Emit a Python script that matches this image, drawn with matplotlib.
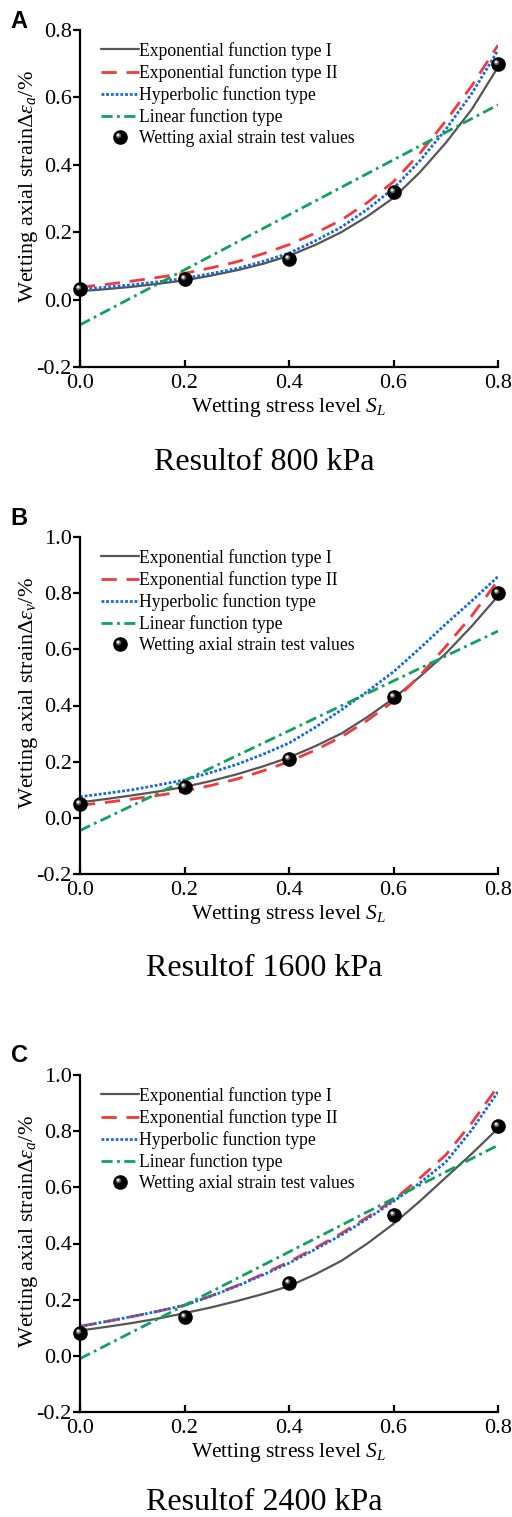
import matplotlib
matplotlib.use("Agg")
import numpy as np
import matplotlib.pyplot as plt
from matplotlib.legend_handler import HandlerTuple
from matplotlib.path import Path

plt.rcParams['font.family'] = ['Liberation Serif', 'DejaVu Serif']
plt.rcParams['mathtext.fontset'] = 'custom'
plt.rcParams['mathtext.rm'] = 'Liberation Serif'
plt.rcParams['mathtext.it'] = 'Liberation Serif:italic'
plt.rcParams['mathtext.bf'] = 'Liberation Serif:bold'

# ---------------- data ----------------
S_curve = [0.00, 0.05, 0.10, 0.15, 0.20, 0.25, 0.30, 0.35, 0.40,
           0.45, 0.50, 0.55, 0.60, 0.65, 0.70, 0.75, 0.80]
S_test = [0.0, 0.2, 0.4, 0.6, 0.8]
S_lin = [0.0, 0.8]

# Panel A: 800 kPa
A_exp1 = [0.025, 0.031, 0.038, 0.047, 0.057, 0.071, 0.087, 0.106, 0.130,
          0.162, 0.200, 0.247, 0.302, 0.377, 0.465, 0.565, 0.690]
A_exp2 = [0.037, 0.045, 0.055, 0.066, 0.078, 0.094, 0.112, 0.136, 0.163,
          0.197, 0.236, 0.288, 0.350, 0.433, 0.530, 0.635, 0.755]
A_hyp = [0.030, 0.037, 0.044, 0.053, 0.063, 0.077, 0.092, 0.113, 0.138,
         0.174, 0.215, 0.268, 0.330, 0.411, 0.505, 0.612, 0.740]
A_lin = [-0.075, 0.578]
A_test = [0.03, 0.06, 0.12, 0.32, 0.70]

# Panel B: 1600 kPa
B_exp1 = [0.055, 0.067, 0.080, 0.094, 0.110, 0.131, 0.155, 0.183, 0.215,
          0.255, 0.300, 0.359, 0.425, 0.502, 0.585, 0.683, 0.790]
B_exp2 = [0.045, 0.055, 0.067, 0.080, 0.095, 0.115, 0.138, 0.167, 0.200,
          0.241, 0.288, 0.347, 0.415, 0.505, 0.610, 0.720, 0.845]
B_hyp = [0.075, 0.087, 0.100, 0.117, 0.135, 0.161, 0.190, 0.226, 0.266,
         0.322, 0.384, 0.450, 0.520, 0.603, 0.690, 0.773, 0.859]
B_lin = [-0.045, 0.665]
B_test = [0.05, 0.11, 0.21, 0.43, 0.80]

# Panel C: 2400 kPa
C_exp1 = [0.090, 0.103, 0.117, 0.133, 0.152, 0.172, 0.195, 0.220, 0.248,
          0.290, 0.338, 0.400, 0.470, 0.550, 0.635, 0.720, 0.810]
C_exp2 = [0.105, 0.122, 0.140, 0.159, 0.180, 0.213, 0.250, 0.291, 0.335,
          0.384, 0.436, 0.494, 0.555, 0.632, 0.715, 0.830, 0.960]
C_hyp = [0.105, 0.122, 0.140, 0.159, 0.180, 0.212, 0.248, 0.288, 0.330,
         0.379, 0.430, 0.488, 0.550, 0.615, 0.690, 0.805, 0.940]
C_lin = [-0.010, 0.750]
C_test = [0.08, 0.14, 0.26, 0.50, 0.82]

legend_labels = ["Exponential function type I", "Exponential function type II",
                 "Hyperbolic function type", "Linear function type",
                 "Wetting axial strain test values"]
ylabels = [r"Wetting axial strain$\Delta\varepsilon_a$/%",
           r"Wetting axial strain$\Delta\varepsilon_v$/%",
           r"Wetting axial strain$\Delta\varepsilon_a$/%"]
titles = ["Resultof 800 kPa", "Resultof 1600 kPa", "Resultof 2400 kPa"]
letters = ["A", "B", "C"]
ymaxs = [0.8, 1.0, 1.0]

panels = [(A_exp1, A_exp2, A_hyp, A_lin, A_test),
          (B_exp1, B_exp2, B_hyp, B_lin, B_test),
          (C_exp1, C_exp2, C_hyp, C_lin, C_test)]


def highlight_marker(cx, cy, rad):
    """Off-centre circle marker (for the glossy sphere look); the two
    invisible MOVETO corners keep the marker scale equal to an 'o' marker."""
    c = Path.circle(center=(cx, cy), radius=rad)
    verts = np.vstack([[[-1.0, -1.0]], [[1.0, 1.0]], c.vertices])
    codes = [Path.MOVETO, Path.MOVETO] + list(c.codes)
    return Path(verts, codes)


hl_outer = highlight_marker(-0.30, 0.30, 0.42)
hl_inner = highlight_marker(-0.36, 0.36, 0.22)

W, H = 512, 1517
fig = plt.figure(figsize=(W / 100, H / 100), dpi=100)

# axes boxes in pixels: (left, top, right, bottom)
boxes = [(80, 30, 498, 367), (80, 537, 498, 874), (80, 1075, 498, 1412)]
title_y = [462, 968, 1503]
letter_y = [22, 518, 1056]

c_gray = '#555555'
c_red = '#f4393c'
c_blue = '#1769e0'
c_green = '#0fa15e'
MS = 9.5

for i, (e1, e2, hy, li, te) in enumerate(panels):
    l, t, r, b = boxes[i]
    ax = fig.add_axes([l / W, 1 - b / H, (r - l) / W, (b - t) / H])
    h1, = ax.plot(S_curve, e1, color=c_gray, lw=1.6, solid_capstyle='round')
    h2, = ax.plot(S_curve, e2, color=c_red, lw=2.0, dashes=(5.5, 3.5))
    h3, = ax.plot(S_curve, hy, color=c_blue, lw=2.0, dashes=(1.0, 0.7))
    h4, = ax.plot(S_lin, li, color=c_green, lw=2.0, dashes=(4.0, 1.6, 1.0, 1.6))
    h5, = ax.plot(S_test, te, 'o', color='black', ms=MS, mec='black', zorder=5,
                  clip_on=False)
    h6, = ax.plot(S_test, te, ls='none', marker=hl_outer, color='#5a5a5a', ms=MS,
                  mec='none', zorder=6, clip_on=False)
    h7, = ax.plot(S_test, te, ls='none', marker=hl_inner, color='#e6e6e6', ms=MS,
                  mec='none', zorder=7, clip_on=False)

    ax.set_xlim(0, 0.8)
    ax.set_ylim(-0.2, ymaxs[i])
    ax.set_xticks([0.0, 0.2, 0.4, 0.6, 0.8])
    yt = [-0.2, 0.0, 0.2, 0.4, 0.6, 0.8] + ([1.0] if ymaxs[i] > 0.9 else [])
    ax.set_yticks(yt)
    ax.set_xticklabels([f"{v:.1f}" for v in [0.0, 0.2, 0.4, 0.6, 0.8]])
    ax.set_yticklabels([f"{v:.1f}" for v in yt])
    for s in ['top', 'right']:
        ax.spines[s].set_visible(False)
    for s in ['left', 'bottom']:
        ax.spines[s].set_linewidth(1.6)
    ax.tick_params(axis='x', direction='in', length=5, width=1.6, labelsize=16, pad=5)
    ax.tick_params(axis='y', direction='out', length=5, width=1.6, labelsize=16, pad=1)
    ax.set_xlabel(r"Wetting stress level $S_L$", fontsize=15.5, labelpad=2)
    ax.set_ylabel(ylabels[i], fontsize=16)
    ax.yaxis.set_label_coords((40 - l) / (r - l), 0.5 + 12 / (b - t))

    leg = ax.legend([h1, h2, h3, h4, (h5, h6, h7)], legend_labels,
                    handler_map={tuple: HandlerTuple(ndivide=1)},
                    loc='upper left', bbox_to_anchor=(0.05, 0.965),
                    frameon=False, fontsize=12.7, handlelength=2.15,
                    handletextpad=0.0, labelspacing=0.24, borderaxespad=0.0,
                    borderpad=0.0)

    fig.text(264 / W, 1 - title_y[i] / H, titles[i], fontsize=23,
             ha='center', va='center')
    fig.text(19 / W, 1 - letter_y[i] / H, letters[i], fontsize=17,
             fontweight='bold', family='Liberation Sans', ha='center', va='center')

fig.savefig("out.png", dpi=100)
